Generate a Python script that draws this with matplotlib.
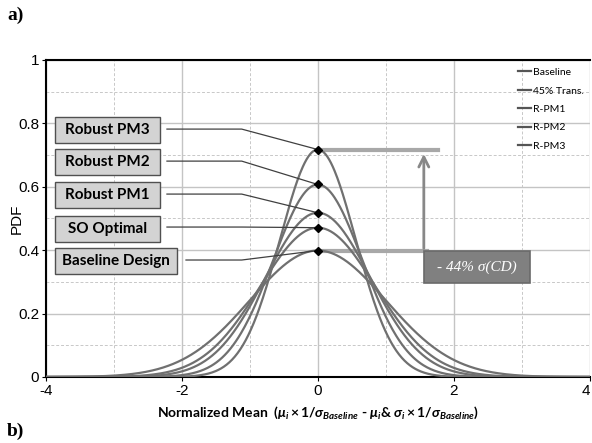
import numpy as np
import matplotlib
matplotlib.use('Agg')
import matplotlib.pyplot as plt
from matplotlib.patches import Rectangle
from matplotlib.ticker import MultipleLocator

legend_labels = ["Baseline", "45% Trans.", "R-PM1", "R-PM2", "R-PM3"]
sigmas = [1.0, 0.847, 0.77, 0.657, 0.556]

# Boites d'etiquettes (texte, centre y de la boite, y du trait de rappel)
box_texts = ["Robust PM3", "Robust PM2", "Robust PM1", "SO Optimal", "Baseline Design"]
box_curve = [4, 3, 2, 1, 0]          # indice de la courbe visee
box_yc = [0.779, 0.677, 0.574, 0.468, 0.366]
leader_y = [0.782, 0.681, 0.577, 0.473, 0.369]

x_ticks = [-4, -2, 0, 2, 4]
y_ticks = [0, 0.2, 0.4, 0.6, 0.8, 1]
y_ticklabels = ['0', '0.2', '0.4', '0.6', '0.8', '1']

reduction_text = "- 44% σ(CD)"

plt.rcParams['font.family'] = ['Liberation Sans', 'DejaVu Sans']
plt.rcParams['mathtext.fontset'] = 'custom'
plt.rcParams['mathtext.rm'] = 'Lato:bold'
plt.rcParams['mathtext.it'] = 'Lato:bold:italic'
plt.rcParams['mathtext.bf'] = 'Lato:bold'

fig = plt.figure(figsize=(5.92, 4.43), dpi=100)
ax = fig.add_axes([0.0777, 0.149, 0.9183, 0.7156])

x = np.linspace(-4, 4, 600)
curve_col = '#707070'
peaks = []
for s, lab in zip(sigmas, legend_labels):
    pdf = np.exp(-0.5 * (x / s) ** 2) / (s * np.sqrt(2 * np.pi))
    ax.plot(x, pdf, color=curve_col, lw=1.6, label=lab, zorder=3)
    peaks.append(1 / (s * np.sqrt(2 * np.pi)))

ax.plot([0] * len(peaks), peaks, 'D', color='black', ms=4.5, zorder=6)

ax.set_xlim(-4, 4)
ax.set_ylim(0, 1)
ax.set_xticks(x_ticks)
ax.set_xticklabels([str(v) for v in x_ticks])
ax.xaxis.set_minor_locator(MultipleLocator(1))
ax.set_yticks(y_ticks)
ax.set_yticklabels(y_ticklabels)
ax.yaxis.set_minor_locator(MultipleLocator(0.1))
ax.grid(which='major', color='#c4c4c4', lw=1.0, zorder=0)
ax.grid(which='minor', color='#c8c8c8', lw=0.7, ls=(0, (3, 2)), zorder=0)
ax.tick_params(which='minor', length=0)
ax.tick_params(which='major', length=3, labelsize=11, colors='black', pad=2)
for sp in ['left', 'bottom', 'top']:
    ax.spines[sp].set_linewidth(1.5)
ax.spines['right'].set_visible(False)

# le "4" est au bord de la figure : on le cale a droite
ax.get_xticklabels()[-1].set_horizontalalignment('right')

ax.set_ylabel("PDF", fontsize=11, labelpad=-4)
ax.set_xlabel(r"Normalized Mean  ($\mu_i\times 1/\sigma_{Baseline}$ - $\mu_i$& $\sigma_i\times 1/\sigma_{Baseline}$)",
              fontsize=10, fontweight='bold', family=['Lato', 'DejaVu Sans'], labelpad=5)

# boites et traits de rappel
for txt, ci, yc, ly in zip(box_texts, box_curve, box_yc, leader_y):
    right = -2.07 if txt == "Baseline Design" else -2.32
    h = 0.082
    ax.add_patch(Rectangle((-3.87, yc - h / 2), right + 3.87, h, facecolor='#d3d3d3',
                           edgecolor='#505050', lw=1.0, zorder=7))
    ax.text((-3.87 + right) / 2, yc, txt, ha='center', va='center', fontsize=11,
            fontweight='bold', family=['Lato', 'DejaVu Sans'], zorder=8)
    x0 = -1.94 if txt == "Baseline Design" else -2.22
    ax.plot([x0, -1.12, 0], [ly, ly, peaks[ci]], color='#404040', lw=0.9, zorder=4)

# traits horizontaux et fleche de reduction
ax.plot([0, 1.77], [peaks[4], peaks[4]], color='#a8a8a8', lw=3, zorder=2)
ax.plot([0, 1.6], [peaks[0], peaks[0]], color='#a8a8a8', lw=3, zorder=2)
ax.annotate("", xy=(1.56, peaks[4] - 0.005), xytext=(1.56, 0.397),
            arrowprops=dict(arrowstyle='->', color='#888888', lw=2, mutation_scale=18), zorder=5)
ax.add_patch(Rectangle((1.56, 0.297), 1.56, 0.1, facecolor='#808080',
                       edgecolor='#6a6a6a', lw=1.2, zorder=7))
ax.text(2.34, 0.347, reduction_text, ha='center', va='center', color='white',
        fontsize=11, family=['Liberation Serif'], style='italic', zorder=8)

leg = ax.legend(loc='upper right', bbox_to_anchor=(1.0, 0.995), frameon=False,
                prop={'family': 'Lato', 'size': 7.5}, handlelength=1.3,
                handletextpad=0.1, labelspacing=0.88, borderaxespad=0.2)
for line in leg.get_lines():
    line.set_color('#555555')
    line.set_linewidth(1.6)

fig.text(0.012, 0.955, "a)", fontsize=14, fontweight='bold', family='Liberation Serif')
fig.text(0.012, 0.015, "b)", fontsize=14, fontweight='bold', family='Liberation Serif')

fig.savefig("out.png", dpi=100)
